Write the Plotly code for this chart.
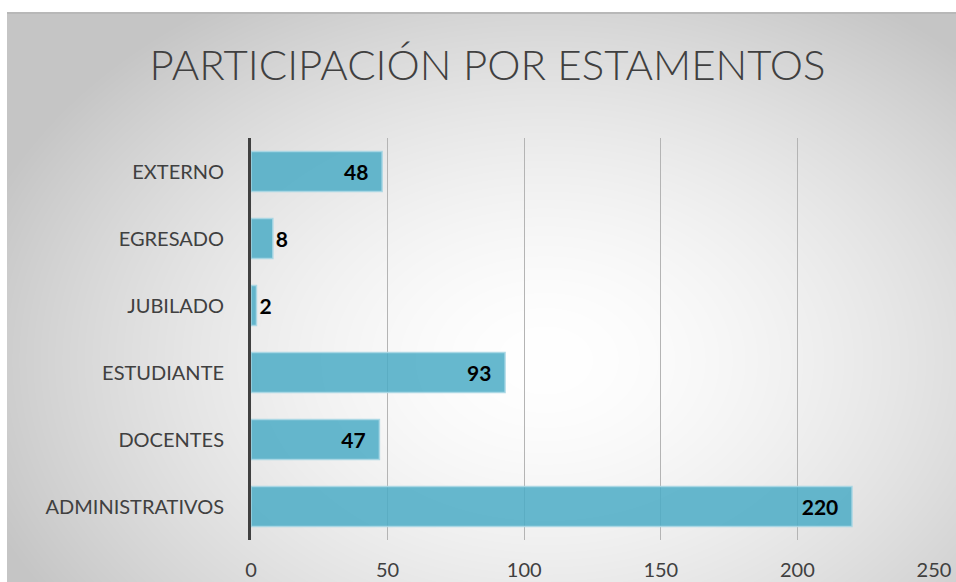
import base64, struct, zlib
import numpy as np
import plotly.graph_objects as go

# ---- data ----
categories = ["ADMINISTRATIVOS", "DOCENTES", "ESTUDIANTE", "JUBILADO", "EGRESADO", "EXTERNO"]
values = [220, 47, 93, 2, 8, 48]
x_ticks = [0, 50, 100, 150, 200, 250]
title_text = "PARTICIPACIÓN POR ESTAMENTOS"

W, H = 956, 582
ML, MR, MT, MB = 251, 22, 138, 42
PW, PH = W - ML - MR, H - MT - MB

# ---- radial gradient background as an embedded PNG ----
bx0, by0 = 7, 12
bw, bh = W - bx0, H - by0
yy, xx = np.mgrid[0:bh, 0:bw].astype(float)
cx, cy = 545 - bx0, 360 - by0
t = np.sqrt(((xx - cx) / 600.0) ** 2 + ((yy - cy) / 430.0) ** 2)
t = np.clip(t, 0, 1)
g = 255 - 58 * t ** 1.6
img = np.repeat(g[:, :, None], 3, axis=2).astype(np.uint8)
img[0:2, :, :] = 184

def png_bytes(a):
    h, w, _ = a.shape
    raw = b"".join(b"\x00" + a[i].tobytes() for i in range(h))
    def chunk(tag, data):
        c = struct.pack(">I", len(data)) + tag + data
        return c + struct.pack(">I", zlib.crc32(tag + data) & 0xFFFFFFFF)
    return (b"\x89PNG\r\n\x1a\n" + chunk(b"IHDR", struct.pack(">IIBBBBB", w, h, 8, 2, 0, 0, 0))
            + chunk(b"IDAT", zlib.compress(raw, 9)) + chunk(b"IEND", b""))

src = "data:image/png;base64," + base64.b64encode(png_bytes(img)).decode()

positions = ["inside" if v >= 20 else "outside" for v in values]

fig = go.Figure(go.Bar(
    y=categories, x=values, orientation="h",
    marker=dict(color="rgba(75,172,198,0.85)", line=dict(color="rgba(170,215,228,0.9)", width=1.5)),
    text=[f"<b>{v}</b>" + ("\u00a0\u00a0" if p == "inside" else "") for v, p in zip(values, positions)],
    textposition=positions, insidetextanchor="end", constraintext="none", textangle=0,
    textfont=dict(family="Lato", size=21, color="#000000"),
    cliponaxis=False, hoverinfo="skip",
))

fig.update_layout(
    width=W, height=H, margin=dict(l=ML, r=MR, t=MT, b=MB, autoexpand=False),
    paper_bgcolor="white", plot_bgcolor="rgba(0,0,0,0)",
    bargap=0.4, showlegend=False,
    title=dict(text=title_text, xref="container", x=0.51, xanchor="center",
               yref="container", y=1 - 65 / H, yanchor="middle",
               font=dict(family="Lato Light, Lato", size=42, color="#404040"),
               automargin=False),
    font=dict(family="Lato", size=20, color="#404040"),
    images=[dict(source=src, xref="paper", yref="paper",
                 x=(bx0 - ML) / PW, y=(H - MB - by0) / PH,
                 sizex=bw / PW, sizey=bh / PH, xanchor="left", yanchor="top",
                 sizing="stretch", layer="below")],
)
fig.update_xaxes(range=[0, 250], tickvals=x_ticks, showgrid=True, gridcolor="#b4b4b4", gridwidth=1,
                 zeroline=False, showline=False, ticks="", ticklabelstandoff=16, automargin=False,
                 tickfont=dict(family="Lato", size=20, color="#404040"), fixedrange=True)
fig.update_yaxes(categoryorder="array", categoryarray=categories, showgrid=False,
                 showline=True, linecolor="#404040", linewidth=3, ticks="", automargin=False,
                 ticklabelstandoff=20, tickfont=dict(family="Lato", size=20, color="#404040"),
                 fixedrange=True)

fig.write_html("out.html", config=dict(displayModeBar=False, responsive=False),
               post_script="document.body.style.margin='0';document.body.style.overflow='hidden';")
